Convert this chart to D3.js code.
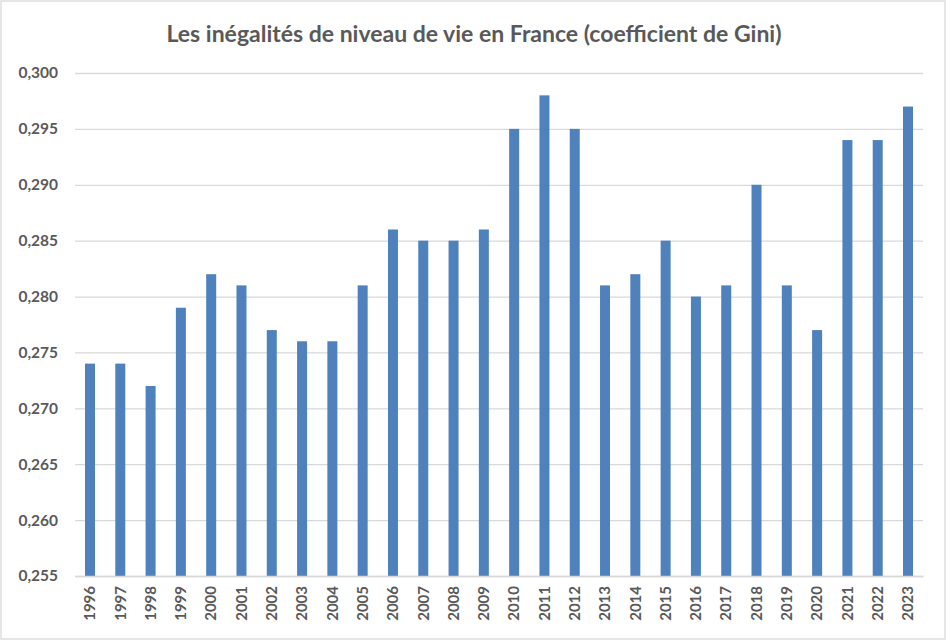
<!DOCTYPE html>
<html><head><meta charset="utf-8">
<script src="https://cdn.jsdelivr.net/npm/d3@7"></script>
<style>body{margin:0;background:#fff}svg{display:block}</style>
</head><body>
<svg id="c" width="947" height="641"></svg>
<script>
const years = ["1996","1997","1998","1999","2000","2001","2002","2003","2004","2005","2006","2007","2008","2009","2010","2011","2012","2013","2014","2015","2016","2017","2018","2019","2020","2021","2022","2023"];
const gini = [0.274,0.274,0.272,0.279,0.282,0.281,0.277,0.276,0.276,0.281,0.286,0.285,0.285,0.286,0.295,0.298,0.295,0.281,0.282,0.285,0.280,0.281,0.290,0.281,0.277,0.294,0.294,0.297];
const yTicks = [0.255,0.260,0.265,0.270,0.275,0.280,0.285,0.290,0.295,0.300];
const title = "Les inégalités de niveau de vie en France (coefficient de Gini)";

const svg = d3.select("#c");
const font = "Lato, 'Open Sans', sans-serif";
const gray = "#595959";
const L = 75, R = 923, T = 73, B = 576;

svg.append("rect").attr("x",1).attr("y",1).attr("width",944).attr("height",638)
  .attr("fill","#fff").attr("stroke","#d9d9d9").attr("stroke-width",1.3);

const x = d3.scaleBand().domain(years).range([L,R]).paddingInner(0.67).paddingOuter(0.33);
const y = d3.scaleLinear().domain([0.255,0.300]).range([B,T]);

const ya = svg.append("g").attr("transform",`translate(${L},0)`)
  .call(d3.axisLeft(y).tickValues(yTicks).tickSize(-(R-L)).tickFormat(d=>d3.format(".3f")(d).replace(".",",")));
ya.select(".domain").remove();
ya.selectAll(".tick line").attr("stroke","#d9d9d9").attr("stroke-width",1.3);
ya.selectAll(".tick text").attr("x",-17).attr("fill",gray).style("font-family",font)
  .style("font-size","15.5px").style("font-weight","bold");

svg.append("g").selectAll("rect").data(years).join("rect")
  .attr("x",d=>x(d)).attr("width",x.bandwidth())
  .attr("y",(d,i)=>y(gini[i])).attr("height",(d,i)=>B-y(gini[i]))
  .attr("fill","#4f81bd");

const xa = svg.append("g").attr("transform",`translate(0,${B})`).call(d3.axisBottom(x).tickSize(0));
xa.select(".domain").attr("stroke","#d9d9d9").attr("stroke-width",1.5);
xa.selectAll(".tick text").attr("transform","rotate(-90)").attr("x",-10).attr("y",0).attr("dy","0.35em")
  .attr("text-anchor","end").attr("fill",gray).style("font-family",font)
  .style("font-size","15px").style("font-weight","bold");

svg.append("text").attr("x",474).attr("y",42).attr("text-anchor","middle")
  .attr("fill",gray).style("font-family",font).style("font-size","23px").style("font-weight","bold")
  .text(title);
</script>
</body></html>
